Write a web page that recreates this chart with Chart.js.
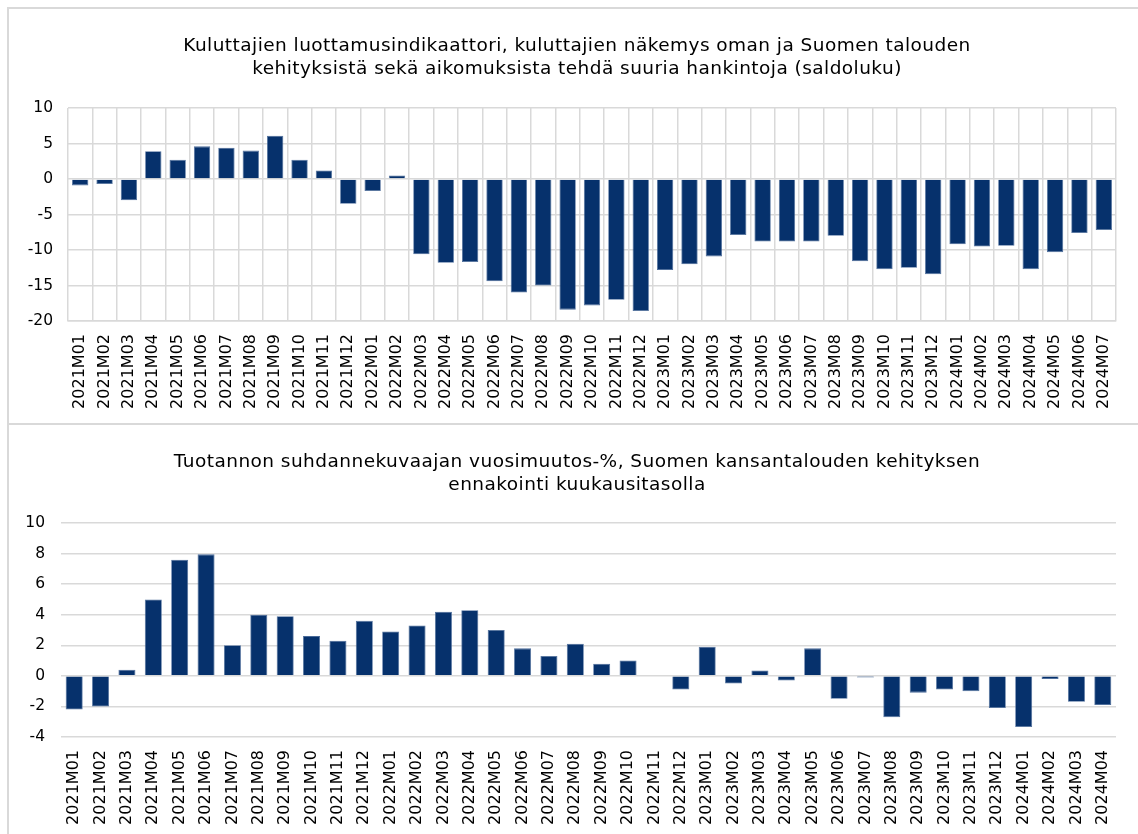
<!DOCTYPE html>
<html>
<head>
<meta charset="utf-8">
<script src="https://cdn.jsdelivr.net/npm/chart.js@4"></script>
<style>
  body { margin: 0; background: #fff; width: 1138px; height: 834px; overflow: hidden; position: relative; }
  .panel { position: absolute; left: 7px; width: 1200px; border-left: 2px solid #d9d9d9; border-top: 2px solid #d9d9d9; }
  .otsikko { position: absolute; left: 7px; width: 1140px; text-align: center; color: #000;
    font-family: 'DejaVu Sans', Verdana, sans-serif; font-size: 18.5px; letter-spacing: 0.45px; line-height: 23px; }
  canvas { position: absolute; left: 0; }
</style>
</head>
<body>
<div class="panel" style="top:7px;height:415px;"></div>
<div class="panel" style="top:423px;height:420px;"></div>
<canvas id="luottamus" style="top:0" width="1138" height="424"></canvas>
<canvas id="tuotanto" style="top:424px" width="1138" height="410"></canvas>
<div class="otsikko" id="otsikko1" style="top:33px"></div>
<div class="otsikko" id="otsikko2" style="top:449px"></div>
<script>
const kuukaudet1 = [
  '2021M01','2021M02','2021M03','2021M04','2021M05','2021M06','2021M07','2021M08','2021M09','2021M10','2021M11','2021M12',
  '2022M01','2022M02','2022M03','2022M04','2022M05','2022M06','2022M07','2022M08','2022M09','2022M10','2022M11','2022M12',
  '2023M01','2023M02','2023M03','2023M04','2023M05','2023M06','2023M07','2023M08','2023M09','2023M10','2023M11','2023M12',
  '2024M01','2024M02','2024M03','2024M04','2024M05','2024M06','2024M07'
];
const luottamus = [
  -0.9, -0.7, -3.0, 3.9, 2.7, 4.6, 4.4, 4.0, 6.1, 2.7, 1.2, -3.5,
  -1.7, 0.5, -10.6, -11.8, -11.7, -14.4, -16.0, -15.0, -18.4, -17.8, -17.0, -18.6,
  -12.8, -12.0, -10.9, -7.9, -8.8, -8.8, -8.8, -8.0, -11.6, -12.7, -12.5, -13.4,
  -9.2, -9.5, -9.4, -12.7, -10.3, -7.6, -7.2
];

const kuukaudet2 = [
  '2021M01','2021M02','2021M03','2021M04','2021M05','2021M06','2021M07','2021M08','2021M09','2021M10','2021M11','2021M12',
  '2022M01','2022M02','2022M03','2022M04','2022M05','2022M06','2022M07','2022M08','2022M09','2022M10','2022M11','2022M12',
  '2023M01','2023M02','2023M03','2023M04','2023M05','2023M06','2023M07','2023M08','2023M09','2023M10','2023M11','2023M12',
  '2024M01','2024M02','2024M03','2024M04'
];
const tuotanto = [
  -2.2, -2.0, 0.4, 5.0, 7.6, 7.95, 2.0, 4.0, 3.9, 2.6, 2.3, 3.6,
  2.9, 3.3, 4.2, 4.3, 3.0, 1.8, 1.3, 2.1, 0.8, 1.0, 0, -0.9,
  1.9, -0.5, 0.35, -0.3, 1.8, -1.5, -0.1, -2.7, -1.1, -0.9, -1.0, -2.1,
  -3.35, -0.2, -1.7, -1.9
];

const otsikko1 = ['Kuluttajien luottamusindikaattori, kuluttajien näkemys oman ja Suomen talouden',
  'kehityksistä sekä aikomuksista tehdä suuria hankintoja (saldoluku)'];
const otsikko2 = ['Tuotannon suhdannekuvaajan vuosimuutos-%, Suomen kansantalouden kehityksen',
  'ennakointi kuukausitasolla'];

// otsikot html-tekstinä
function asetaOtsikko(id, rivit) {
  const el = document.getElementById(id);
  rivit.forEach((r, i) => {
    if (i > 0) el.appendChild(document.createElement('br'));
    el.appendChild(document.createTextNode(r));
  });
}
asetaOtsikko('otsikko1', otsikko1);
asetaOtsikko('otsikko2', otsikko2);

const fontti = 'DejaVu Sans, Verdana, sans-serif';
const palkki = '#06316c';
const ruudukko = '#d9d9d9';

function teeKaavio(id, labels, data, opts) {
  new Chart(document.getElementById(id), {
    type: 'bar',
    data: {
      labels: labels,
      datasets: [{
        data: data,
        backgroundColor: palkki,
        borderColor: '#4f6f9c',
        borderWidth: 0.8,
        barPercentage: opts.bar,
        categoryPercentage: 1
      }]
    },
    options: {
      responsive: false,
      animation: false,
      layout: { padding: { left: 8, right: 22, top: opts.top, bottom: 0 } },
      plugins: {
        legend: { display: false },
        tooltip: { enabled: false }
      },
      scales: {
        x: {
          grid: { display: opts.xGrid, color: ruudukko, lineWidth: 1.5, drawTicks: false, offset: true },
          border: { display: opts.xGrid, color: ruudukko, width: 1.5 },
          ticks: {
            autoSkip: false, minRotation: 90, maxRotation: 90, padding: 13,
            color: '#000', font: { family: fontti, size: 16 }
          },
          afterFit: s => { s.height = opts.xHeight; }
        },
        y: {
          min: opts.min, max: opts.max,
          grid: { color: ruudukko, lineWidth: 1.5, drawTicks: false },
          border: { display: false },
          ticks: {
            stepSize: opts.step, padding: opts.yPad,
            color: '#000', font: { family: fontti, size: 15.5 }
          },
          afterFit: s => { s.width = opts.yWidth; }
        }
      }
    }
  });
}

teeKaavio('luottamus', kuukaudet1, luottamus, {
  bar: 0.67, xGrid: true, min: -20, max: 10, step: 5,
  top: 108, xHeight: 103, yWidth: 60, yPad: 15
});
teeKaavio('tuotanto', kuukaudet2, tuotanto, {
  bar: 0.645, xGrid: false, min: -4, max: 10, step: 2,
  top: 99, xHeight: 97, yWidth: 53, yPad: 16
});
</script>
</body>
</html>
